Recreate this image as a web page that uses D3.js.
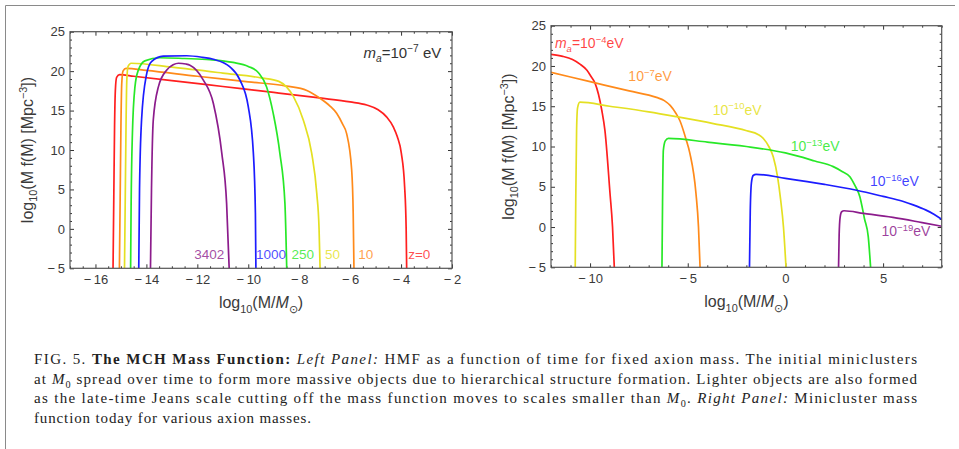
<!DOCTYPE html>
<html lang="en">
<head>
<meta charset="UTF-8">
<title>MCH Mass Function</title>
<script src="https://cdn.jsdelivr.net/npm/d3@7"></script>
<style>
  body { margin: 0; background: #fff; }
  svg { display: block; }
</style>
</head>
<body>
<svg id="fig"></svg>
<script>
// ---- left panel: HMF over time, m_a = 1e-7 eV  (x = log10 M/Msun, y = log10 M f(M))
const leftZ = ["z=0", "10", "50", "250", "1000", "3402"];
const hmfZ0 = [[-15.31,-5],[-15.28,4],[-15.25,13],[-15.22,17.5],[-15.17,19.2],[-15.05,19.55],[-14.5,19.35],[-13,18.8],[-11,18.05],[-9,17.3],[-7.2,16.6],[-6,16.1],[-5.35,15.7],[-4.9,15.1],[-4.57,14.2],[-4.3,12.9],[-4.15,11.7],[-3.99,9.6],[-3.86,5.35],[-3.8,0],[-3.78,-5]];
const hmfZ10 = [[-15.06,-5],[-15.03,4],[-15.0,13],[-14.97,18.3],[-14.92,20.0],[-14.8,20.35],[-14,20.1],[-12,19.35],[-10,18.65],[-8.5,18.1],[-7.7,17.55],[-7.2,16.6],[-6.8,15.6],[-6.53,14.65],[-6.3,13.3],[-6.14,12.1],[-5.94,7.5],[-5.88,2],[-5.85,-5]];
const hmfZ50 = [[-14.86,-5],[-14.83,4],[-14.8,13],[-14.77,18.8],[-14.72,20.6],[-14.6,21.0],[-13,20.5],[-11,19.75],[-9.5,19.15],[-8.8,18.7],[-8.5,18.0],[-8.23,16.8],[-7.84,13.8],[-7.51,9.6],[-7.31,4.5],[-7.22,0],[-7.18,-5]];
const hmfZ250 = [[-14.62,-5],[-14.6,3],[-14.55,12],[-14.45,18.0],[-14.32,20.1],[-14.06,21.3],[-13.47,21.7],[-12.5,21.6],[-11.5,21.45],[-10.6,21.1],[-10,20.6],[-9.6,19.8],[-9.28,18.0],[-9.02,14.65],[-8.76,9.6],[-8.56,3.2],[-8.49,-5]];
const hmfZ1000 = [[-14.3,-5],[-14.27,5],[-14.19,13.8],[-14.0,19.5],[-13.8,21.2],[-13.34,21.9],[-12.42,21.95],[-11.8,21.75],[-11.37,21.5],[-10.72,20.55],[-10.33,18.9],[-10.0,15.5],[-9.8,9.6],[-9.72,2],[-9.7,-5]];
const hmfZ3402 = [[-13.84,-5],[-13.8,5],[-13.73,13.8],[-13.53,18.0],[-13.2,20.15],[-12.95,20.8],[-12.74,21.0],[-12.45,20.9],[-12.29,20.75],[-11.77,18.9],[-11.37,15.9],[-11.04,9.6],[-10.85,3.2],[-10.75,-5]];
const leftSeries = [hmfZ0, hmfZ10, hmfZ50, hmfZ250, hmfZ1000, hmfZ3402];
const leftLabelX = [-3.72, -5.68, -6.99, -8.30, -9.70, -12.12];
const leftLabelY = -3.8;

// ---- right panel: today's mass function for several axion masses
const rightExp = ["\u22124", "\u22127", "\u221210", "\u221213", "\u221216", "\u221219"];
const mfA4 = [[-12,21.45],[-11.4,21.2],[-10.9,20.8],[-10.5,20.2],[-10.17,19.5],[-9.95,18.7],[-9.75,17.9],[-9.4,14.5],[-9.24,12.0],[-8.98,4.2],[-8.85,0],[-8.76,-5]];
const mfA7 = [[-12,19.2],[-10,18.05],[-8,16.9],[-6.6,16.1],[-6.2,15.7],[-5.9,15.1],[-5.6,14.1],[-5.4,13.2],[-5.1,11.0],[-4.89,9.15],[-4.58,4.2],[-4.45,0],[-4.37,-5]];
const mfA10 = [[-10.76,-5],[-10.73,4],[-10.69,12],[-10.64,14.8],[-10.52,15.5],[-9,15.0],[-7,14.3],[-5.57,13.7],[-3.69,12.85],[-1.98,11.95],[-1.4,11.5],[-1.13,11.0],[-0.85,10.0],[-0.62,8.7],[-0.4,6.2],[-0.25,3.5],[-0.1,0],[0.03,-5]];
const mfA13 = [[-6.32,-5],[-6.29,3],[-6.25,9.5],[-6.15,10.7],[-5.99,11.0],[-4,10.55],[-2,10.0],[0,9.2],[1.5,8.2],[2.45,7.5],[2.9,6.9],[3.3,6.25],[3.55,5.2],[3.81,3.77],[4.05,1],[4.24,-1.2],[4.36,-5]];
const mfA16 = [[-1.84,-5],[-1.8,2],[-1.74,5.5],[-1.65,6.4],[-1.5,6.55],[0,6.05],[2,5.3],[3.64,4.57],[5,3.8],[6,3.2],[6.54,2.75],[7.2,2.1],[7.6,1.6],[8,0.95]];
const mfA19 = [[2.72,-5],[2.75,-1],[2.8,1.2],[2.88,1.9],[3.0,2.02],[4,1.7],[5.5,1.2],[7,0.55],[8,0.1]];
const rightSeries = [mfA4, mfA7, mfA10, mfA13, mfA16, mfA19];
const rightLabelAt = [[-11.8,22.2],[-8.04,18.1],[-3.72,13.9],[0.27,9.4],[4.33,5.05],[4.92,-1.15]];

const colors = ["#ff1f1f", "#ff8a1a", "#e4e022", "#27e827", "#1c1cff", "#8c1c8c"];

const captionLines = [
  [["FIG. 5. ",""],["The MCH Mass Function:","b"],[" ",""],["Left Panel:","i"],[" HMF as a function of time for fixed axion mass. The initial miniclusters",""]],
  [["at ",""],["M","i"],["0","sub"],[" spread over time to form more massive objects due to hierarchical structure formation. Lighter objects are also formed",""]],
  [["as the late-time Jeans scale cutting off the mass function moves to scales smaller than ",""],["M","i"],["0","sub"],[". ",""],["Right Panel:","i"],[" Minicluster mass",""]],
  [["function today for various axion masses.",""]]
];

const W = 959, H = 449;
const sans = "'Liberation Sans', Arial, Helvetica, sans-serif";
const svg = d3.select("#fig").attr("width", W).attr("height", H);

// page edge of the scanned figure
svg.append("path").attr("d", "M5.5,449V5.5H955").attr("fill", "none")
  .attr("stroke", "#8a8a8a").attr("stroke-width", 1);

// text with sub/superscripts
function rich(sel, parts, size) {
  let shift = 0;
  parts.forEach(p => {
    const target = p.sup ? -0.4 * size : p.sub ? 0.28 * size : 0;
    const ts = sel.append("tspan").text(p.t).attr("dy", target - shift);
    if (p.sup || p.sub) ts.attr("font-size", size * 0.68);
    if (p.it) ts.attr("font-style", "italic");
    if (p.b) ts.attr("font-weight", "bold");
    shift = target;
  });
  return sel;
}

const minusFmt = d => d < 0 ? "\u2212\u2009" + (-d) : String(d);

function panel(cfg) {
  const g = svg.append("g");
  const x = d3.scaleLinear().domain(cfg.xDomain).range([cfg.left, cfg.right]);
  const y = d3.scaleLinear().domain([-5, 25]).range([cfg.bottom, cfg.top]);

  const yMajor = d3.range(-5, 26, 5);
  const yMinor = d3.range(-5, 26, 1).filter(v => v % 5 !== 0);
  const xMinor = d3.range(cfg.xDomain[0], cfg.xDomain[1] + 1e-9, cfg.xMinorStep)
    .filter(v => !cfg.xMajor.includes(v));

  const styleAxis = a => {
    a.select(".domain").remove();
    a.selectAll("line").attr("stroke", "#333").attr("stroke-width", 1);
    a.attr("font-family", sans).attr("font-size", 13);
    a.selectAll("text").attr("fill", "#3a3a3a");
  };

  const axes = [
    [d3.axisBottom(x).tickValues(cfg.xMajor).tickFormat(minusFmt).tickPadding(6), `translate(0,${cfg.bottom})`],
    [d3.axisBottom(x).tickValues(xMinor).tickFormat(""), `translate(0,${cfg.bottom})`, true],
    [d3.axisTop(x).tickValues(cfg.xMajor).tickFormat(""), `translate(0,${cfg.top})`],
    [d3.axisTop(x).tickValues(xMinor).tickFormat(""), `translate(0,${cfg.top})`, true],
    [d3.axisLeft(y).tickValues(yMajor).tickFormat(minusFmt).tickPadding(5), `translate(${cfg.left},0)`],
    [d3.axisLeft(y).tickValues(yMinor).tickFormat(""), `translate(${cfg.left},0)`, true],
    [d3.axisRight(y).tickValues(yMajor).tickFormat(""), `translate(${cfg.right},0)`],
    [d3.axisRight(y).tickValues(yMinor).tickFormat(""), `translate(${cfg.right},0)`, true]
  ];
  axes.forEach(([ax, tr, minor]) => {
    ax.tickSize(minor ? -2 : -4);
    g.append("g").attr("transform", tr).call(ax).call(styleAxis);
  });

  // curves
  const clipId = "clip" + cfg.id;
  svg.append("clipPath").attr("id", clipId).append("rect")
    .attr("x", cfg.left).attr("y", cfg.top)
    .attr("width", cfg.right - cfg.left).attr("height", cfg.bottom - cfg.top);
  const line = d3.line().x(d => x(d[0])).y(d => y(d[1])).curve(d3.curveMonotoneX);
  g.append("g").attr("clip-path", `url(#${clipId})`)
    .selectAll("path").data(cfg.series).join("path")
    .attr("d", line).attr("fill", "none")
    .attr("stroke", (d, i) => colors[i]).attr("stroke-width", 1.7)
    .attr("stroke-linejoin", "round");

  // frame
  g.append("rect").attr("x", cfg.left).attr("y", cfg.top)
    .attr("width", cfg.right - cfg.left).attr("height", cfg.bottom - cfg.top)
    .attr("fill", "none").attr("stroke", "#555").attr("stroke-width", 1.2);

  // axis titles
  rich(g.append("text").attr("x", (cfg.left + cfg.right) / 2).attr("y", cfg.bottom + 40)
    .attr("text-anchor", "middle").attr("font-family", sans).attr("font-size", 16).attr("fill", "#3a3a3a"),
    [{t: "log"}, {t: "10", sub: true}, {t: "(M/"}, {t: "M", it: true}, {t: "\u2299", sub: true}, {t: ")"}], 16);

  rich(g.append("text")
    .attr("transform", `translate(${cfg.left - 37},${(cfg.top + cfg.bottom) / 2}) rotate(-90)`)
    .attr("text-anchor", "middle").attr("font-family", sans).attr("font-size", 16).attr("fill", "#3a3a3a"),
    [{t: "log"}, {t: "10", sub: true}, {t: "(M f(M) [Mpc"}, {t: "\u22123", sup: true}, {t: "])"}], 16);

  return {g, x, y};
}

// ---- left panel
const L = panel({id: "L", xDomain: [-17, -2], xMajor: d3.range(-16, -1, 2), xMinorStep: 0.5,
  left: 70, right: 452, top: 31.7, bottom: 268.3, series: leftSeries});

L.g.selectAll(".zlab").data(leftZ).join("text").attr("class", "zlab")
  .attr("x", (d, i) => L.x(leftLabelX[i])).attr("y", L.y(leftLabelY))
  .attr("font-family", sans).attr("font-size", 13.5)
  .attr("fill", (d, i) => colors[i]).attr("fill-opacity", 0.8)
  .text(d => d);

rich(L.g.append("text").attr("x", L.x(-2.42)).attr("y", L.y(21.67)).attr("text-anchor", "end")
  .attr("font-family", sans).attr("font-size", 15).attr("fill", "#333"),
  [{t: "m", it: true}, {t: "a", sub: true, it: true}, {t: "=10"}, {t: "\u22127", sup: true}, {t: " eV"}], 15);

// ---- right panel
const R = panel({id: "R", xDomain: [-12, 8], xMajor: [-10, -5, 0, 5], xMinorStep: 1,
  left: 551, right: 941.7, top: 25.7, bottom: 267.3, series: rightSeries});

rightExp.forEach((e, i) => {
  const parts = i === 0
    ? [{t: "m", it: true}, {t: "a", sub: true, it: true}, {t: "=10"}, {t: e, sup: true}, {t: "eV"}]
    : [{t: "10"}, {t: e, sup: true}, {t: "eV"}];
  rich(R.g.append("text").attr("x", R.x(rightLabelAt[i][0])).attr("y", R.y(rightLabelAt[i][1]))
    .attr("font-family", sans).attr("font-size", 14)
    .attr("fill", colors[i]).attr("fill-opacity", 0.85), parts, 14);
});

// ---- caption
const capBase = [364, 383.5, 403, 422.5];
captionLines.forEach((parts, i) => {
  const t = svg.append("text").attr("x", 34).attr("y", capBase[i])
    .attr("font-family", "'Liberation Serif', 'Times New Roman', serif").attr("font-size", 15)
    .attr("fill", "#222").style("white-space", "pre")
    .attr("textLength", i < 3 ? 883 : 277).attr("lengthAdjust", "spacing");
  rich(t, parts.map(([s, k]) => ({t: s, b: k === "b", it: k === "i", sub: k === "sub"})), 15);
});
</script>
</body>
</html>
